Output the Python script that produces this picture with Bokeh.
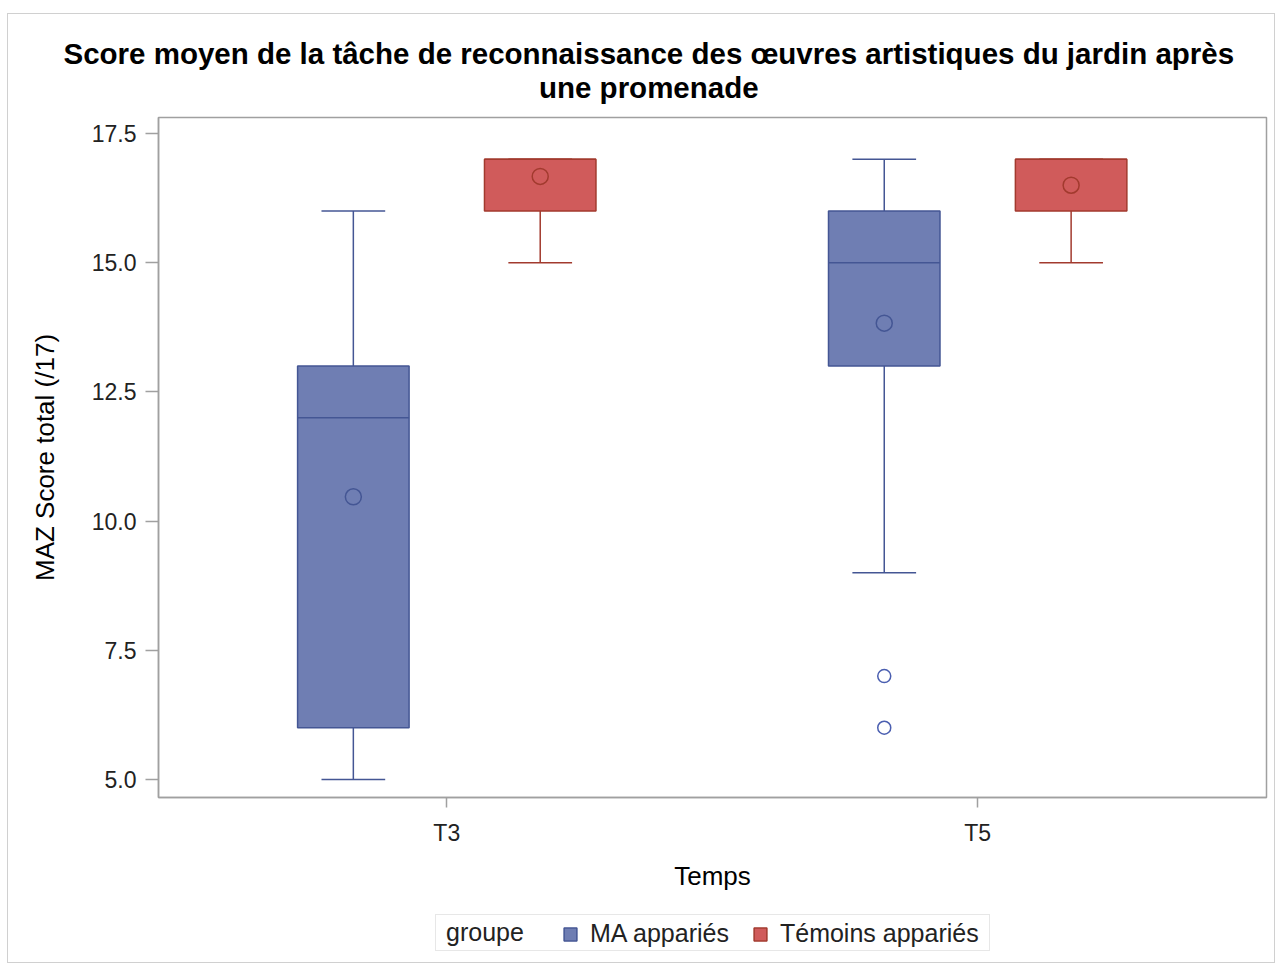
from bokeh.plotting import figure
from bokeh.layouts import column
from bokeh.models import (FixedTicker, Legend, LegendItem, PrintfTickFormatter, Range1d, Title)
from bokeh.embed import file_html
from bokeh.resources import INLINE

# ---- data ----
times = ["T3", "T5"]
groups = ["MA appariés", "Témoins appariés"]
legend_title = "groupe"

ma_low = [5, 9]
ma_q1 = [6, 13]
ma_med = [12, 15]
ma_q3 = [13, 16]
ma_high = [16, 17]
ma_mean = [10.47, 13.83]
ma_out_time = ["T5", "T5"]
ma_out_vals = [7, 6]

tm_low = [15, 15]
tm_q1 = [16, 16]
tm_med = [17, 17]
tm_q3 = [17, 17]
tm_high = [17, 17]
tm_mean = [16.67, 16.5]

y_ticks = [5.0, 7.5, 10.0, 12.5, 15.0, 17.5]

title_lines = ["Score moyen de la tâche de reconnaissance des œuvres artistiques du jardin après",
               "une promenade"]

# ---- styles ----
FONT = "Liberation Sans"
colors_fill = ["#6F7EB3", "#D05B5B"]
colors_line = ["#445694", "#A23A2E"]
OFF = 0.176
BOXW = 0.21
CAPW = 0.12
W = 1266

p = figure(width=W, height=900, output_backend="svg", toolbar_location=None,
           x_range=Range1d(-0.543, 1.544), y_range=Range1d(4.65, 17.81),
           min_border_left=150, min_border_right=8, min_border_top=103,
           min_border_bottom=117, title=None)

title_kw = dict(align="left", text_font=FONT, text_font_size="29.5px",
                text_font_style="bold", text_color="#000000")
t = Title(text="\n".join(title_lines), offset=-95, standoff=26, text_line_height=1.06,
          **title_kw)
try:
    t.text_align = "center"
    p.add_layout(t, "above")
except Exception:
    for i, (off, so) in zip(reversed(range(len(title_lines))), [(376, 27), (-93, 0)]):
        p.add_layout(Title(text=title_lines[i], offset=off, standoff=so, **title_kw), "above")

p.grid.visible = False
p.outline_line_color = "#a0a0a0"
p.outline_line_width = 1.5

idx = {t: i for i, t in enumerate(times)}
xs = list(range(len(times)))

series = [
    (ma_low, ma_q1, ma_med, ma_q3, ma_high, ma_mean, -OFF),
    (tm_low, tm_q1, tm_med, tm_q3, tm_high, tm_mean, OFF),
]
for g, (lo, q1, med, q3, hi, mean, off) in enumerate(series):
    x = [xi + off for xi in xs]
    fc, lc = colors_fill[g], colors_line[g]
    p.segment(x0=x, y0=q3, x1=x, y1=hi, line_color=lc, line_width=1.5)
    p.segment(x0=x, y0=q1, x1=x, y1=lo, line_color=lc, line_width=1.5)
    p.segment(x0=[v - CAPW / 2 for v in x], y0=hi, x1=[v + CAPW / 2 for v in x], y1=hi,
              line_color=lc, line_width=1.5)
    p.segment(x0=[v - CAPW / 2 for v in x], y0=lo, x1=[v + CAPW / 2 for v in x], y1=lo,
              line_color=lc, line_width=1.5)
    p.vbar(x=x, width=BOXW, top=q3, bottom=q1, fill_color=fc, line_color=lc, line_width=1.5)
    p.segment(x0=[v - BOXW / 2 for v in x], y0=med, x1=[v + BOXW / 2 for v in x], y1=med,
              line_color=lc, line_width=1.5)
    p.scatter(x=x, y=mean, marker="circle", size=16, fill_color=None,
              line_color=lc, line_width=1.5)

p.scatter(x=[idx[t] - OFF for t in ma_out_time], y=ma_out_vals, marker="circle", size=13,
          fill_color=None, line_color="#4A5EB0", line_width=1.5)

# axes
p.xaxis.ticker = FixedTicker(ticks=xs)
p.xaxis.major_label_overrides = {i: t for i, t in enumerate(times)}
p.yaxis.ticker = FixedTicker(ticks=y_ticks)
p.yaxis.formatter = PrintfTickFormatter(format="%.1f")
for ax in (p.xaxis, p.yaxis):
    ax.minor_tick_line_color = None
    ax.axis_line_color = "#a0a0a0"
    ax.axis_line_width = 1.5
    ax.major_tick_line_color = "#a0a0a0"
    ax.major_tick_line_width = 1.5
    ax.major_tick_in = 0
    ax.major_label_text_font = FONT
    ax.major_label_text_font_size = "23px"
    ax.major_label_text_color = "#222222"
    ax.axis_label_text_font = FONT
    ax.axis_label_text_font_size = "26px"
    ax.axis_label_text_font_style = "normal"
    ax.axis_label_text_color = "#000000"
p.xaxis.axis_label = "Temps"
p.yaxis.axis_label = "MAZ Score total (/17)"
p.xaxis.major_tick_out = 10
p.yaxis.major_tick_out = 13
p.xaxis.major_label_standoff = 12
p.xaxis.axis_label_standoff = 12
p.yaxis.major_label_standoff = 9
p.yaxis.axis_label_standoff = 29

# ---- legend strip (its own small figure under the chart) ----
lf = figure(width=W, height=48, output_backend="svg", toolbar_location=None,
            x_axis_location=None, y_axis_location=None, min_border=0,
            x_range=Range1d(0, 1), y_range=Range1d(0, 1), title=None)
lf.grid.visible = False
lf.outline_line_color = None

dummy = lf.scatter(x=[], y=[], marker="square", size=1, fill_alpha=0, line_alpha=0)
# legend proxies (hidden renderers carrying the box styles)
swatches = []
for g, (lo, q1, med, q3, hi, mean, off) in enumerate(series):
    swatches.append(lf.vbar(x=[xi + off for xi in xs], top=q3, bottom=q1, width=BOXW,
                            fill_color=colors_fill[g], line_color=colors_line[g],
                            line_width=1.5, visible=False))

leg_box = Legend(items=[LegendItem(label=legend_title, renderers=[dummy])],
                 location=(277, 11), orientation="horizontal")
leg_box.glyph_width = 0
leg_box.glyph_height = 22
leg_box.label_height = 22
leg_box.label_standoff = 7
leg_box.label_width = 540
leg_box.padding = 3
leg_box.margin = 0
leg_box.border_line_color = "#d0d0d0"
leg_box.border_line_width = 1.5
leg_box.label_text_font = FONT
leg_box.label_text_font_size = "25px"
leg_box.label_text_color = "#222222"
lf.add_layout(leg_box)

legend = Legend(items=[LegendItem(label=groups[g], renderers=[swatches[g]])
                       for g in range(len(groups))],
                orientation="horizontal", location=(404, 14))
legend.label_text_font = FONT
legend.label_text_font_size = "25px"
legend.label_text_color = "#222222"
legend.glyph_width = 16
legend.glyph_height = 16
legend.label_height = 22
legend.spacing = 23
legend.padding = 0
legend.margin = 0
legend.label_standoff = 12
legend.border_line_color = None
legend.background_fill_alpha = 0
lf.add_layout(legend)

page = column(p, lf, spacing=0)
page.styles = {"margin-top": "13px", "margin-left": "7px", "border": "1px solid #d0d0d0"}

open("out.html", "w").write(file_html(page, INLINE))
